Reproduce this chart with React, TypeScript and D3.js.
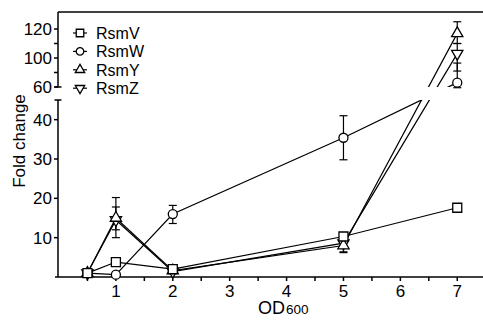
import * as d3 from "d3";

// OD600 sample points
const odValues = [0.5, 1, 2, 5, 7];

const seriesNames = ["RsmV", "RsmW", "RsmY", "RsmZ"];
const rsmV = [1, 3.8, 2, 10.3, 17.6];
const rsmW = [1, 0.6, 16, 35.4, 66];
const rsmY = [1, 15, 1.6, 8, 117];
const rsmZ = [1, 14.5, 1.4, 8.6, 103];

// [low, high] error ranges, null where none is drawn
type Err = [number, number] | null;
const rsmVErr: Err[] = [null, null, null, null, null];
const rsmWErr: Err[] = [null, null, [13.6, 18.2], [29.8, 41], [59, 93]];
const rsmYErr: Err[] = [null, [10, 20.2], null, [6.4, 9], [110, 125]];
const rsmZErr: Err[] = [null, [12, 17.8], null, [6.2, 9], [82, 110]];

const xTicks = [0.5, 1, 1.5, 2, 2.5, 3, 3.5, 4, 4.5, 5, 5.5, 6, 6.5, 7, 7.5];
const xLabels = [1, 2, 3, 4, 5, 6, 7];
const yLowerTicks = [10, 20, 30, 40];
const yUpperTicks = [60, 80, 100, 110, 120];
const yUpperLabels = [60, 100, 120];

const W = 483;
const H = 324;
const axisX = 58;
const axisY = 277;
const lowTop = 100;
const highBottom = 87;
const plotTop = 12;

const narrow = "'Liberation Sans Narrow', 'Arial Narrow', 'Liberation Sans', Arial, sans-serif";
const sans = "'Liberation Sans', Arial, sans-serif";

const x = d3.scaleLinear().domain([0, 7.5]).range([59, 485.7]);
const yLow = d3.scaleLinear().domain([0, 45]).range([axisY, lowTop]);
const yHigh = d3.scaleLinear().domain([60, 100, 120]).range([highBottom, 58, 29]);
const yPos = (v: number) => (v <= 50 ? yLow(v) : yHigh(v));

const series = [
  { name: "RsmZ", values: rsmZ, err: rsmZErr, shape: d3.symbolTriangle, size: 55, rot: 180 },
  { name: "RsmY", values: rsmY, err: rsmYErr, shape: d3.symbolTriangle, size: 55, rot: 0 },
  { name: "RsmW", values: rsmW, err: rsmWErr, shape: d3.symbolCircle, size: 64, rot: 0 },
  { name: "RsmV", values: rsmV, err: rsmVErr, shape: d3.symbolSquare, size: 81, rot: 0 },
];

const line = d3
  .line<number>()
  .x((_, i) => x(odValues[i]))
  .y((d) => yPos(d));

export default function App() {
  const legendRows = seriesNames.map((n) => series.find((s) => s.name === n)!);
  return (
    <svg
      width={W}
      height={H}
      style={{ position: "absolute", left: 0, top: 0, background: "#fff" }}
    >
      <defs>
        <clipPath id="brk">
          <rect x={axisX} y={0} width={W} height={highBottom} />
          <rect x={axisX} y={lowTop} width={W} height={H - lowTop} />
        </clipPath>
      </defs>

      {/* top frame */}
      <line x1={axisX} x2={W} y1={plotTop} y2={plotTop} stroke="#000" strokeWidth={1.6} />

      {/* axes with the y break */}
      <g stroke="#000" strokeWidth={1.5}>
        <line x1={axisX} x2={axisX} y1={axisY} y2={lowTop} />
        <line x1={axisX - 3.5} x2={axisX + 3.5} y1={lowTop} y2={lowTop} />
        {yLowerTicks.map((t) => (
          <line key={t} x1={axisX - 4} x2={axisX} y1={yLow(t)} y2={yLow(t)} />
        ))}
        <line x1={axisX} x2={axisX} y1={highBottom} y2={plotTop} />
        <line x1={axisX - 3.5} x2={axisX + 3.5} y1={highBottom} y2={highBottom} />
        {yUpperTicks.map((t) => (
          <line key={t} x1={axisX - 4} x2={axisX} y1={yHigh(t)} y2={yHigh(t)} />
        ))}
        <line x1={axisX - 3} x2={W} y1={axisY} y2={axisY} />
        {xTicks.map((t) => (
          <line key={t} x1={x(t)} x2={x(t)} y1={axisY} y2={axisY + 4} />
        ))}
      </g>

      <g fontFamily={narrow} fontSize={17} fill="#000">
        {yLowerTicks.map((t) => (
          <text key={t} x={axisX - 6} y={yLow(t) + 6} textAnchor="end">
            {t}
          </text>
        ))}
        {yUpperLabels.map((t) => (
          <text key={t} x={axisX - 6} y={yHigh(t) + 6} textAnchor="end">
            {t}
          </text>
        ))}
        {xLabels.map((t) => (
          <text key={t} x={x(t)} y={297} textAnchor="middle">
            {t}
          </text>
        ))}
        <text x={285} y={314} fontSize={18} textAnchor="end">
          OD
        </text>
        <text x={286} y={314} fontFamily={sans} fontSize={13.5}>
          600
        </text>
      </g>

      <text
        transform="translate(25,141) rotate(-90)"
        textAnchor="middle"
        fontFamily={sans}
        fontSize={17}
      >
        Fold change
      </text>

      {/* lines */}
      <g clipPath="url(#brk)" fill="none" stroke="#000" strokeWidth={1.2}>
        {series.map((s) => (
          <path key={s.name} d={line(s.values) ?? ""} />
        ))}
      </g>

      {/* error bars */}
      <g stroke="#000" strokeWidth={1.2}>
        {series.map((s) =>
          s.err.map((e, i) =>
            e ? (
              <g key={s.name + i}>
                <line x1={x(odValues[i])} x2={x(odValues[i])} y1={yPos(e[0])} y2={yPos(e[1])} />
                <line x1={x(odValues[i]) - 4} x2={x(odValues[i]) + 4} y1={yPos(e[0])} y2={yPos(e[0])} />
                <line x1={x(odValues[i]) - 4} x2={x(odValues[i]) + 4} y1={yPos(e[1])} y2={yPos(e[1])} />
              </g>
            ) : null
          )
        )}
      </g>

      {/* markers */}
      <g fill="#fff" stroke="#000" strokeWidth={1.3}>
        {series.map((s) =>
          s.values.map((v, i) => (
            <path
              key={s.name + i}
              d={d3.symbol().type(s.shape).size(s.size)() ?? ""}
              transform={`translate(${x(odValues[i])},${yPos(v)}) rotate(${s.rot})`}
            />
          ))
        )}
      </g>

      {/* legend */}
      <g>
        {legendRows.map((s, i) => {
          const cy = 33 + i * 18.4;
          return (
            <g key={s.name}>
              <line x1={73} x2={87} y1={cy} y2={cy} stroke="#000" strokeWidth={1.2} />
              <path
                d={d3.symbol().type(s.shape).size(s.size * 0.7)() ?? ""}
                transform={`translate(80,${cy}) rotate(${s.rot})`}
                fill="#fff"
                stroke="#000"
                strokeWidth={1.3}
              />
              <text x={96} y={cy + 6} fontFamily={narrow} fontSize={16}>
                {s.name}
              </text>
            </g>
          );
        })}
      </g>
    </svg>
  );
}
